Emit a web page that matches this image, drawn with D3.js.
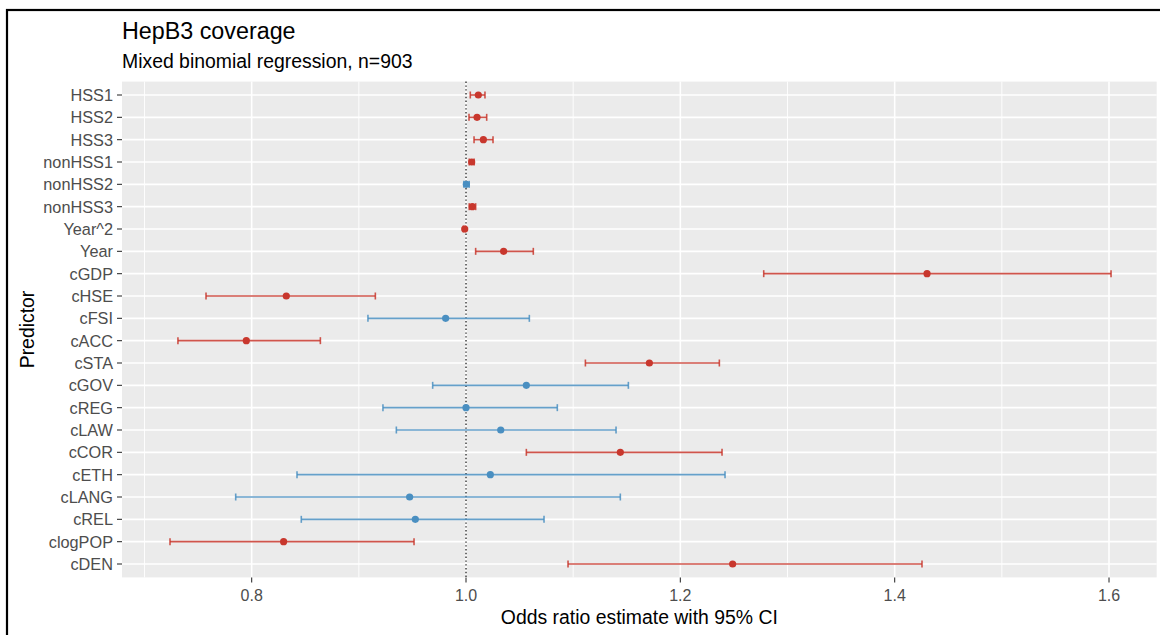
<!DOCTYPE html>
<html>
<head>
<meta charset="utf-8">
<script src="https://cdn.jsdelivr.net/npm/d3@7"></script>
<style>
  html, body { margin: 0; padding: 0; background: #fff; }
  svg { display: block; font-family: "Liberation Sans", Arial, sans-serif; }
</style>
</head>
<body>
<svg id="chart" width="1160" height="635"></svg>
<script>
// ---- data ----
const categories = ["HSS1","HSS2","HSS3","nonHSS1","nonHSS2","nonHSS3","Year^2","Year",
  "cGDP","cHSE","cFSI","cACC","cSTA","cGOV","cREG","cLAW","cCOR","cETH","cLANG","cREL","clogPOP","cDEN"];
const estimates = [1.0115,1.0103,1.0162,1.0053,1.0003,1.0059,0.9988,1.0351,
  1.4302,0.8323,0.9810,0.7950,1.1711,1.0563,1.0000,1.0324,1.1440,1.0227,0.9474,0.9527,0.8298,1.2488];
const lowerCI = [1.0040,1.0028,1.0075,1.0030,0.9980,1.0030,0.9975,1.0090,
  1.2778,0.7574,0.9085,0.7312,1.1114,0.9689,0.9225,0.9350,1.0563,0.8423,0.7851,0.8463,0.7238,1.0952];
const upperCI = [1.0177,1.0193,1.0252,1.0076,1.0030,1.0090,0.9996,1.0628,
  1.6019,0.9154,1.0591,0.8641,1.2364,1.1515,1.0852,1.1400,1.2389,1.2417,1.1440,1.0728,0.9515,1.4255];
const majorTicks = [0.8, 1.0, 1.2, 1.4, 1.6];
const majorTickLabels = ["0.8", "1.0", "1.2", "1.4", "1.6"];
const minorTicks = [0.7, 0.9, 1.1, 1.3, 1.5];
const titleText = "HepB3 coverage";
const subtitleText = "Mixed binomial regression, n=903";
const xTitle = "Odds ratio estimate with 95% CI";
const yTitle = "Predictor";

// ---- layout ----
const svg = d3.select("#chart");
const P = { left: 122, right: 1156.7, top: 81.6, bottom: 577.4 };
const RED = "#C8372D", BLUE = "#4A8FC1";

const rows = categories.map((c, i) => ({
  cat: c, est: estimates[i], lo: lowerCI[i], hi: upperCI[i],
  col: (lowerCI[i] > 1 || upperCI[i] < 1) ? RED : BLUE
}));

const x = d3.scaleLinear().domain([0.6790, 1.6445]).range([P.left, P.right]);
const y = d3.scalePoint().domain(categories).range([P.top, P.bottom]).padding(0.6);

// outer frame
svg.append("rect").attr("x", 7).attr("y", 10).attr("width", 1200).attr("height", 700)
  .attr("fill", "none").attr("stroke", "#000").attr("stroke-width", 2.2);

// panel
svg.append("rect").attr("x", P.left).attr("y", P.top)
  .attr("width", P.right - P.left).attr("height", P.bottom - P.top).attr("fill", "#EBEBEB");

const grid = svg.append("g");
grid.selectAll(".minor").data(minorTicks).join("line")
  .attr("x1", d => x(d)).attr("x2", d => x(d)).attr("y1", P.top).attr("y2", P.bottom)
  .attr("stroke", "#fff").attr("stroke-width", 0.9);
grid.selectAll(".majx").data(majorTicks).join("line")
  .attr("x1", d => x(d)).attr("x2", d => x(d)).attr("y1", P.top).attr("y2", P.bottom)
  .attr("stroke", "#fff").attr("stroke-width", 1.6);
grid.selectAll(".majy").data(categories).join("line")
  .attr("x1", P.left).attr("x2", P.right).attr("y1", d => y(d)).attr("y2", d => y(d))
  .attr("stroke", "#fff").attr("stroke-width", 1.6);

// reference line at 1
svg.append("line").attr("x1", x(1)).attr("x2", x(1)).attr("y1", P.top).attr("y2", P.bottom)
  .attr("stroke", "#222").attr("stroke-width", 1.3).attr("stroke-dasharray", "1.4,2.4");

// error bars
const eb = svg.append("g");
const cap = 3.5;
rows.forEach(r => {
  const g = eb.append("g").attr("stroke", r.col).attr("stroke-width", 1.6).attr("stroke-opacity", 0.85);
  g.append("line").attr("x1", x(r.lo)).attr("x2", x(r.hi)).attr("y1", y(r.cat)).attr("y2", y(r.cat));
  g.append("line").attr("x1", x(r.lo)).attr("x2", x(r.lo)).attr("y1", y(r.cat) - cap).attr("y2", y(r.cat) + cap);
  g.append("line").attr("x1", x(r.hi)).attr("x2", x(r.hi)).attr("y1", y(r.cat) - cap).attr("y2", y(r.cat) + cap);
});
svg.append("g").selectAll("circle").data(rows).join("circle")
  .attr("cx", d => x(d.est)).attr("cy", d => y(d.cat)).attr("r", 3.6).attr("fill", d => d.col);

// y axis
const ya = svg.append("g");
ya.selectAll("line").data(categories).join("line")
  .attr("x1", P.left - 5).attr("x2", P.left).attr("y1", d => y(d)).attr("y2", d => y(d))
  .attr("stroke", "#333").attr("stroke-width", 1.1);
ya.selectAll("text").data(categories).join("text")
  .attr("x", P.left - 9).attr("y", d => y(d)).attr("dy", "0.36em")
  .attr("text-anchor", "end").attr("font-size", 16.3).attr("fill", "#4D4D4D").text(d => d);

// x axis
const xa = svg.append("g");
xa.selectAll("line").data(majorTicks).join("line")
  .attr("x1", d => x(d)).attr("x2", d => x(d)).attr("y1", P.bottom).attr("y2", P.bottom + 5)
  .attr("stroke", "#333").attr("stroke-width", 1.1);
xa.selectAll("text").data(majorTicks).join("text")
  .attr("x", d => x(d)).attr("y", 601).attr("text-anchor", "middle")
  .attr("font-size", 16).attr("fill", "#4D4D4D").text((d, i) => majorTickLabels[i]);

// titles
svg.append("text").attr("x", (P.left + P.right) / 2).attr("y", 624).attr("text-anchor", "middle")
  .attr("font-size", 19.4).attr("fill", "#000").text(xTitle);
svg.append("text").attr("transform", `translate(33.5, ${(P.top + P.bottom) / 2}) rotate(-90)`)
  .attr("text-anchor", "middle").attr("font-size", 19.4).attr("fill", "#000").text(yTitle);
svg.append("text").attr("x", P.left).attr("y", 39).attr("font-size", 23.3).attr("fill", "#000").text(titleText);
svg.append("text").attr("x", P.left).attr("y", 68.3).attr("font-size", 19.4).attr("fill", "#000").text(subtitleText);
</script>
</body>
</html>
